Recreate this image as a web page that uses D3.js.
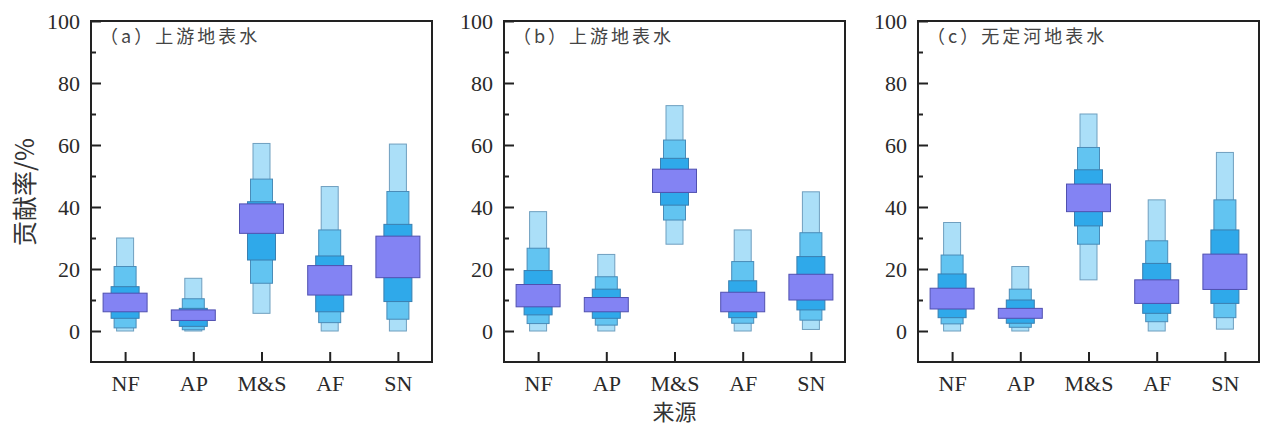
<!DOCTYPE html>
<html>
<head>
<meta charset="utf-8">
<script src="https://cdn.jsdelivr.net/npm/d3@7"></script>
<style>
  html, body { margin: 0; padding: 0; background: #ffffff; }
  svg { display: block; }
</style>
</head>
<body>
<svg id="chart" width="1264" height="428"></svg>
<script>
// ---------------- data ----------------
const categories = ["NF", "AP", "M&S", "AF", "SN"];
const panelTitles = ["（a）上游地表水", "（b）上游地表水", "（c）无定河地表水"];
const yTickValues = [0, 20, 40, 60, 80, 100];
const yMinorValues = [10, 30, 50, 70, 90];
const xTitle = "来源";
const yTitle = "贡献率/%";

// letter-value levels: [low, high] per category (NF, AP, M&S, AF, SN)
// panel (a)
const aOuter  = [[0, 30],   [0, 17],   [5.7, 60.5],  [0, 46.6],  [0, 60.3]];
const aThird  = [[1, 20.8], [0.4, 10.4], [15.4, 49], [2.7, 32.6], [3.8, 45]];
const aSecond = [[4.1, 14.3], [1.5, 7.3], [22.9, 41.7], [6.2, 24.2], [9.5, 34.4]];
const aIQR    = [[6.2, 12.2], [3.4, 6.8], [31.5, 41], [11.6, 21.1], [17.2, 30.6]];
// panel (b)
const bOuter  = [[0, 38.5], [0, 24.7], [28, 72.7], [0, 32.6], [0.5, 44.9]];
const bThird  = [[2.4, 26.7], [1.9, 17.5], [35.8, 61.6], [2.5, 22.4], [3.5, 31.7]];
const bSecond = [[5.2, 19.5], [4.1, 13.5], [40.6, 55.7], [4.3, 16.2], [6.8, 24]];
const bIQR    = [[7.8, 15], [6.2, 10.8], [44.7, 52.2], [6.2, 12.5], [10, 18.3]];
// panel (c)
const cOuter  = [[0, 35], [0, 20.8], [16.5, 70], [0, 42.3], [0.6, 57.6]];
const cThird  = [[2.3, 24.5], [1.2, 13.5], [28, 59.2], [3, 29.1], [4.3, 42.3]];
const cSecond = [[4.3, 18.4], [2.5, 10], [33.9, 52], [5.7, 21.8], [8.9, 32.6]];
const cIQR    = [[7.1, 13.8], [4.1, 7.3], [38.5, 47.4], [8.9, 16.5], [13.4, 24.8]];

const panels = [
  { title: panelTitles[0], levels: [aOuter, aThird, aSecond, aIQR] },
  { title: panelTitles[1], levels: [bOuter, bThird, bSecond, bIQR] },
  { title: panelTitles[2], levels: [cOuter, cThird, cSecond, cIQR] }
];

// ---------------- styles / layout ----------------
const levelStyle = [
  { w: 17, fill: "#abdff8", stroke: "#6f9fbf" },
  { w: 22, fill: "#62c4f1", stroke: "#4a8cb8" },
  { w: 28, fill: "#2fa9ea", stroke: "#3a7fb0" },
  { w: 44, fill: "#8383f3", stroke: "#5050b0" }
];
const panelLeft = [91, 504, 918];
const panelW = 341;
const plotTop = 21, plotBottom = 362;
const serif = "'Liberation Serif', 'Times New Roman', serif";
const cjk = "'Noto Sans CJK SC', sans-serif";

const svg = d3.select("#chart");
const y = d3.scaleLinear().domain([-10, 100]).range([plotBottom, plotTop]);

panels.forEach((p, i) => {
  const g = svg.append("g").attr("transform", `translate(${panelLeft[i]},0)`);
  const x = d3.scalePoint().domain(categories).range([0, panelW]).padding(0.5);

  // boxes: outer (narrow, light) first, IQR (wide, purple) last
  p.levels.forEach((lv, li) => {
    const st = levelStyle[li];
    g.append("g").selectAll("rect")
      .data(lv.map((d, k) => ({ cat: categories[k], lo: d[0], hi: d[1] })))
      .join("rect")
      .attr("x", d => x(d.cat) - st.w / 2)
      .attr("width", st.w)
      .attr("y", d => y(d.hi))
      .attr("height", d => y(d.lo) - y(d.hi))
      .attr("fill", st.fill)
      .attr("stroke", st.stroke)
      .attr("stroke-width", 1);
  });

  // y axis major
  const yAx = g.append("g").call(
    d3.axisLeft(y).tickValues(yTickValues).tickSize(-10).tickPadding(11).tickFormat(d3.format("d"))
  );
  yAx.select(".domain").remove();
  yAx.selectAll(".tick line").attr("stroke", "#222").attr("stroke-width", 2);
  yAx.selectAll(".tick text").attr("font-family", serif).attr("font-size", 22).attr("fill", "#2a2a2a");

  // y axis minor
  const yMin = g.append("g").call(
    d3.axisLeft(y).tickValues(yMinorValues).tickSize(-5).tickFormat("")
  );
  yMin.select(".domain").remove();
  yMin.selectAll(".tick line").attr("stroke", "#222").attr("stroke-width", 2);

  // x axis
  const xAx = g.append("g").attr("transform", `translate(0,${plotBottom})`).call(
    d3.axisBottom(x).tickSize(-10).tickPadding(13)
  );
  xAx.select(".domain").remove();
  xAx.selectAll(".tick line").attr("stroke", "#222").attr("stroke-width", 2);
  xAx.selectAll(".tick text").attr("font-family", serif).attr("font-size", 22).attr("fill", "#2a2a2a");

  // frame
  g.append("rect")
    .attr("x", 0).attr("y", plotTop)
    .attr("width", panelW).attr("height", plotBottom - plotTop)
    .attr("fill", "none").attr("stroke", "#222").attr("stroke-width", 2);

  // panel title
  g.append("text")
    .attr("x", 9).attr("y", 43)
    .attr("font-family", cjk).attr("font-size", 18)
    .attr("letter-spacing", 3)
    .attr("fill", "#444")
    .text(p.title);
});

// axis titles
svg.append("text")
  .attr("x", panelLeft[1] + panelW / 2).attr("y", 420)
  .attr("text-anchor", "middle")
  .attr("font-family", cjk).attr("font-size", 22).attr("fill", "#333")
  .text(xTitle);

svg.append("text")
  .attr("transform", "translate(23,192) rotate(-90)")
  .attr("text-anchor", "middle").attr("dominant-baseline", "central")
  .attr("font-family", cjk).attr("font-size", 25).attr("fill", "#333")
  .text(yTitle);
</script>
</body>
</html>
